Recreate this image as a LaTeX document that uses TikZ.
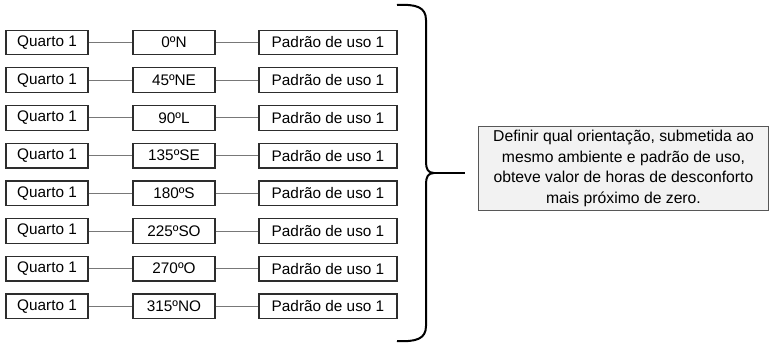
\documentclass[tikz,border=0pt]{standalone}
\usepackage{fontspec}
\setmainfont{Liberation Sans}
\usepackage{tikz}
\usetikzlibrary{calc}

\definecolor{boxline}{RGB}{45,45,45}
\definecolor{linkgray}{RGB}{120,120,120}
\definecolor{notefill}{RGB}{242,242,242}

\begin{document}
\begin{tikzpicture}[x=0.75pt,y=-0.75pt,
    cell/.style={draw=boxline, line width=0.9pt, minimum height=18.5pt, inner sep=0pt, font=\fontsize{11.5}{13}\selectfont},
    room/.style={cell, minimum width=61.5pt},
    orient/.style={cell, minimum width=61.5pt},
    usage/.style={cell, minimum width=103.5pt},
    link/.style={draw=linkgray, line width=0.7pt}]
            \useasboundingbox (0,0) rectangle (771,343);
            % rooms
            \node[room] (q1) at (47,42.5) {Quarto 1};
            \node[room] (q2) at (47,80.2) {Quarto 1};
            \node[room] (q3) at (47,117.9) {Quarto 1};
            \node[room] (q4) at (47,155.6) {Quarto 1};
            \node[room] (q5) at (47,193.3) {Quarto 1};
            \node[room] (q6) at (47,231) {Quarto 1};
            \node[room] (q7) at (47,268.7) {Quarto 1};
            \node[room] (q8) at (47,306.4) {Quarto 1};
            % orientations
            \node[orient] (o1) at (174,42.5) {0ºN};
            \node[orient] (o2) at (174,80.2) {45ºNE};
            \node[orient] (o3) at (174,117.9) {90ºL};
            \node[orient] (o4) at (174,155.6) {135ºSE};
            \node[orient] (o5) at (174,193.3) {180ºS};
            \node[orient] (o6) at (174,231) {225ºSO};
            \node[orient] (o7) at (174,268.7) {270ºO};
            \node[orient] (o8) at (174,306.4) {315ºNO};
            % usage patterns
            \node[usage] (p1) at (328,42.5) {Padrão de uso 1};
            \node[usage] (p2) at (328,80.2) {Padrão de uso 1};
            \node[usage] (p3) at (328,117.9) {Padrão de uso 1};
            \node[usage] (p4) at (328,155.6) {Padrão de uso 1};
            \node[usage] (p5) at (328,193.3) {Padrão de uso 1};
            \node[usage] (p6) at (328,231) {Padrão de uso 1};
            \node[usage] (p7) at (328,268.7) {Padrão de uso 1};
            \node[usage] (p8) at (328,306.4) {Padrão de uso 1};
            \path[link] (q1) -- (o1) (o1) -- (p1);
            \path[link] (q2) -- (o2) (o2) -- (p2);
            \path[link] (q3) -- (o3) (o3) -- (p3);
            \path[link] (q4) -- (o4) (o4) -- (p4);
            \path[link] (q5) -- (o5) (o5) -- (p5);
            \path[link] (q6) -- (o6) (o6) -- (p6);
            \path[link] (q7) -- (o7) (o7) -- (p7);
            \path[link] (q8) -- (o8) (o8) -- (p8);
            % brace and conclusion
            \node[draw=boxline!80, fill=notefill, line width=0.8pt, minimum width=218pt, minimum height=63.5pt,
                  align=center, font=\fontsize{11.8}{15.3}\selectfont] (goal) at (623.5,168.5)
                {Definir qual orientação, submetida ao\\ mesmo ambiente e padrão de uso,\\ obteve valor de horas de desconforto\\ mais próximo de zero.};
            \coordinate (tip) at (465,173);
            \draw[line width=1.5pt, line join=round] (397,5) .. controls (416,4) and (426,7) .. (426,20)
                -- (426,162) .. controls (426,169) and (428,173) .. (434,173)
                .. controls (428,173) and (426,177) .. (426,184)
                -- (426,326) .. controls (426,339) and (416,342) .. (397,341);
            \draw[line width=1.5pt] (434,173) -- (tip);
        \end{tikzpicture}
\end{document}
